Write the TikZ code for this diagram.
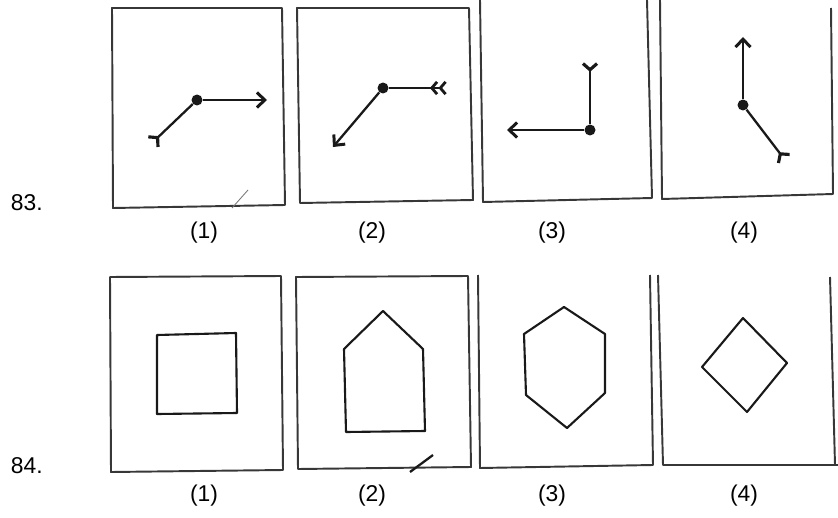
\documentclass[tikz,border=0pt]{standalone}
\usepackage{fontspec}
\setmainfont{Liberation Sans}
\usetikzlibrary{arrows.meta}
\definecolor{ink}{RGB}{25,25,25}
\definecolor{frameink}{RGB}{55,55,55}
\definecolor{smudge}{RGB}{120,120,120}

\begin{document}
\begin{tikzpicture}[x=0.02cm, y=-0.02cm,
    frame/.style={draw=frameink, line width=1.1pt, line join=round},
    shaft/.style={draw=ink, line width=1.3pt},
    pivot/.style={circle, fill=ink, inner sep=0pt, minimum size=0.22cm},
    headtip/.style={-{Straight Barb[length=4.5pt, width=8.5pt, line width=1.7pt]}},
    tailtip/.style={-{Straight Barb[reversed, length=3.5pt, width=8pt, line width=1.8pt]}},
    tailtwo/.style={-{Straight Barb[reversed, length=3pt, width=7pt, line width=1.6pt] Straight Barb[reversed, length=3pt, width=7pt, line width=1.6pt]}},
    figure/.style={draw=ink, line width=1.2pt, line join=round},
    lbl/.style={font=\fontsize{13}{15}\selectfont, inner sep=0pt}]
  \useasboundingbox (0,0) rectangle (838,517);

  % question 83
  \node[lbl, anchor=base east] (q83) at (43,210) {83.};
  \draw[frame] (112,8) -- (113,208) -- (285,205) -- (282,8) -- cycle;
  \draw[frame] (297,8) -- (300,203) -- (473,200) -- (469,8) -- cycle;
  \draw[frame] (480,0) -- (483,202) -- (652,198) -- (647,0);
  \draw[frame] (660,0) -- (662,199) -- (833,194) -- (831,8);
  \draw[smudge, line width=0.5pt] (232,208) -- (248,190);

  \node[pivot] (d1) at (197,100) {};
  \coordinate (t1) at (152,143);
  \coordinate (h1) at (267,100);
  \draw[shaft, tailtip] (d1) -- (t1);
  \draw[shaft, headtip] (d1) -- (h1);

  \node[pivot] (d2) at (383,88) {};
  \coordinate (t2) at (447,88);
  \coordinate (h2) at (333,147);
  \draw[shaft, tailtwo] (d2) -- (t2);
  \draw[shaft, headtip] (d2) -- (h2);

  \node[pivot] (d3) at (590,130) {};
  \coordinate (t3) at (590,62);
  \coordinate (h3) at (507,130);
  \draw[shaft, tailtip] (d3) -- (t3);
  \draw[shaft, headtip] (d3) -- (h3);

  \node[pivot] (d4) at (743,105) {};
  \coordinate (t4) at (785,160);
  \coordinate (h4) at (743,37);
  \draw[shaft, tailtip] (d4) -- (t4);
  \draw[shaft, headtip] (d4) -- (h4);

  \foreach \x/\n in {204/1,372/2,552/3,744/4}
    \node[lbl] (a\n) at (\x,233) {(\n)};

  % question 84
  \node[lbl, anchor=base east] (q84) at (43,473) {84.};
  \draw[frame] (110,277) -- (111,472) -- (283,470) -- (281,276) -- cycle;
  \draw[frame] (296,277) -- (298,469) -- (471,467) -- (468,276) -- cycle;
  \draw[frame] (478,275) -- (480,468) -- (653,465) -- (650,275);
  \draw[frame] (658,275) -- (663,465) -- (838,465);
  \draw[frame] (830,277) -- (835,465);
  \draw[ink, line width=1.3pt] (410,472) -- (433,455);

  \draw[figure] (157,335) -- (236,333) -- (237,413) -- (157,414) -- cycle;
  \draw[figure] (383,311) -- (423,349) -- (425,431) -- (346,432) -- (344,349) -- cycle;
  \draw[figure] (564,307) -- (605,334) -- (605,393) -- (567,428) -- (526,395) -- (524,334) -- cycle;
  \draw[figure] (743,318) -- (787,363) -- (747,412) -- (702,367) -- cycle;

  \foreach \x/\n in {204/1,372/2,552/3,744/4}
    \node[lbl] (b\n) at (\x,496) {(\n)};
\end{tikzpicture}
\end{document}
